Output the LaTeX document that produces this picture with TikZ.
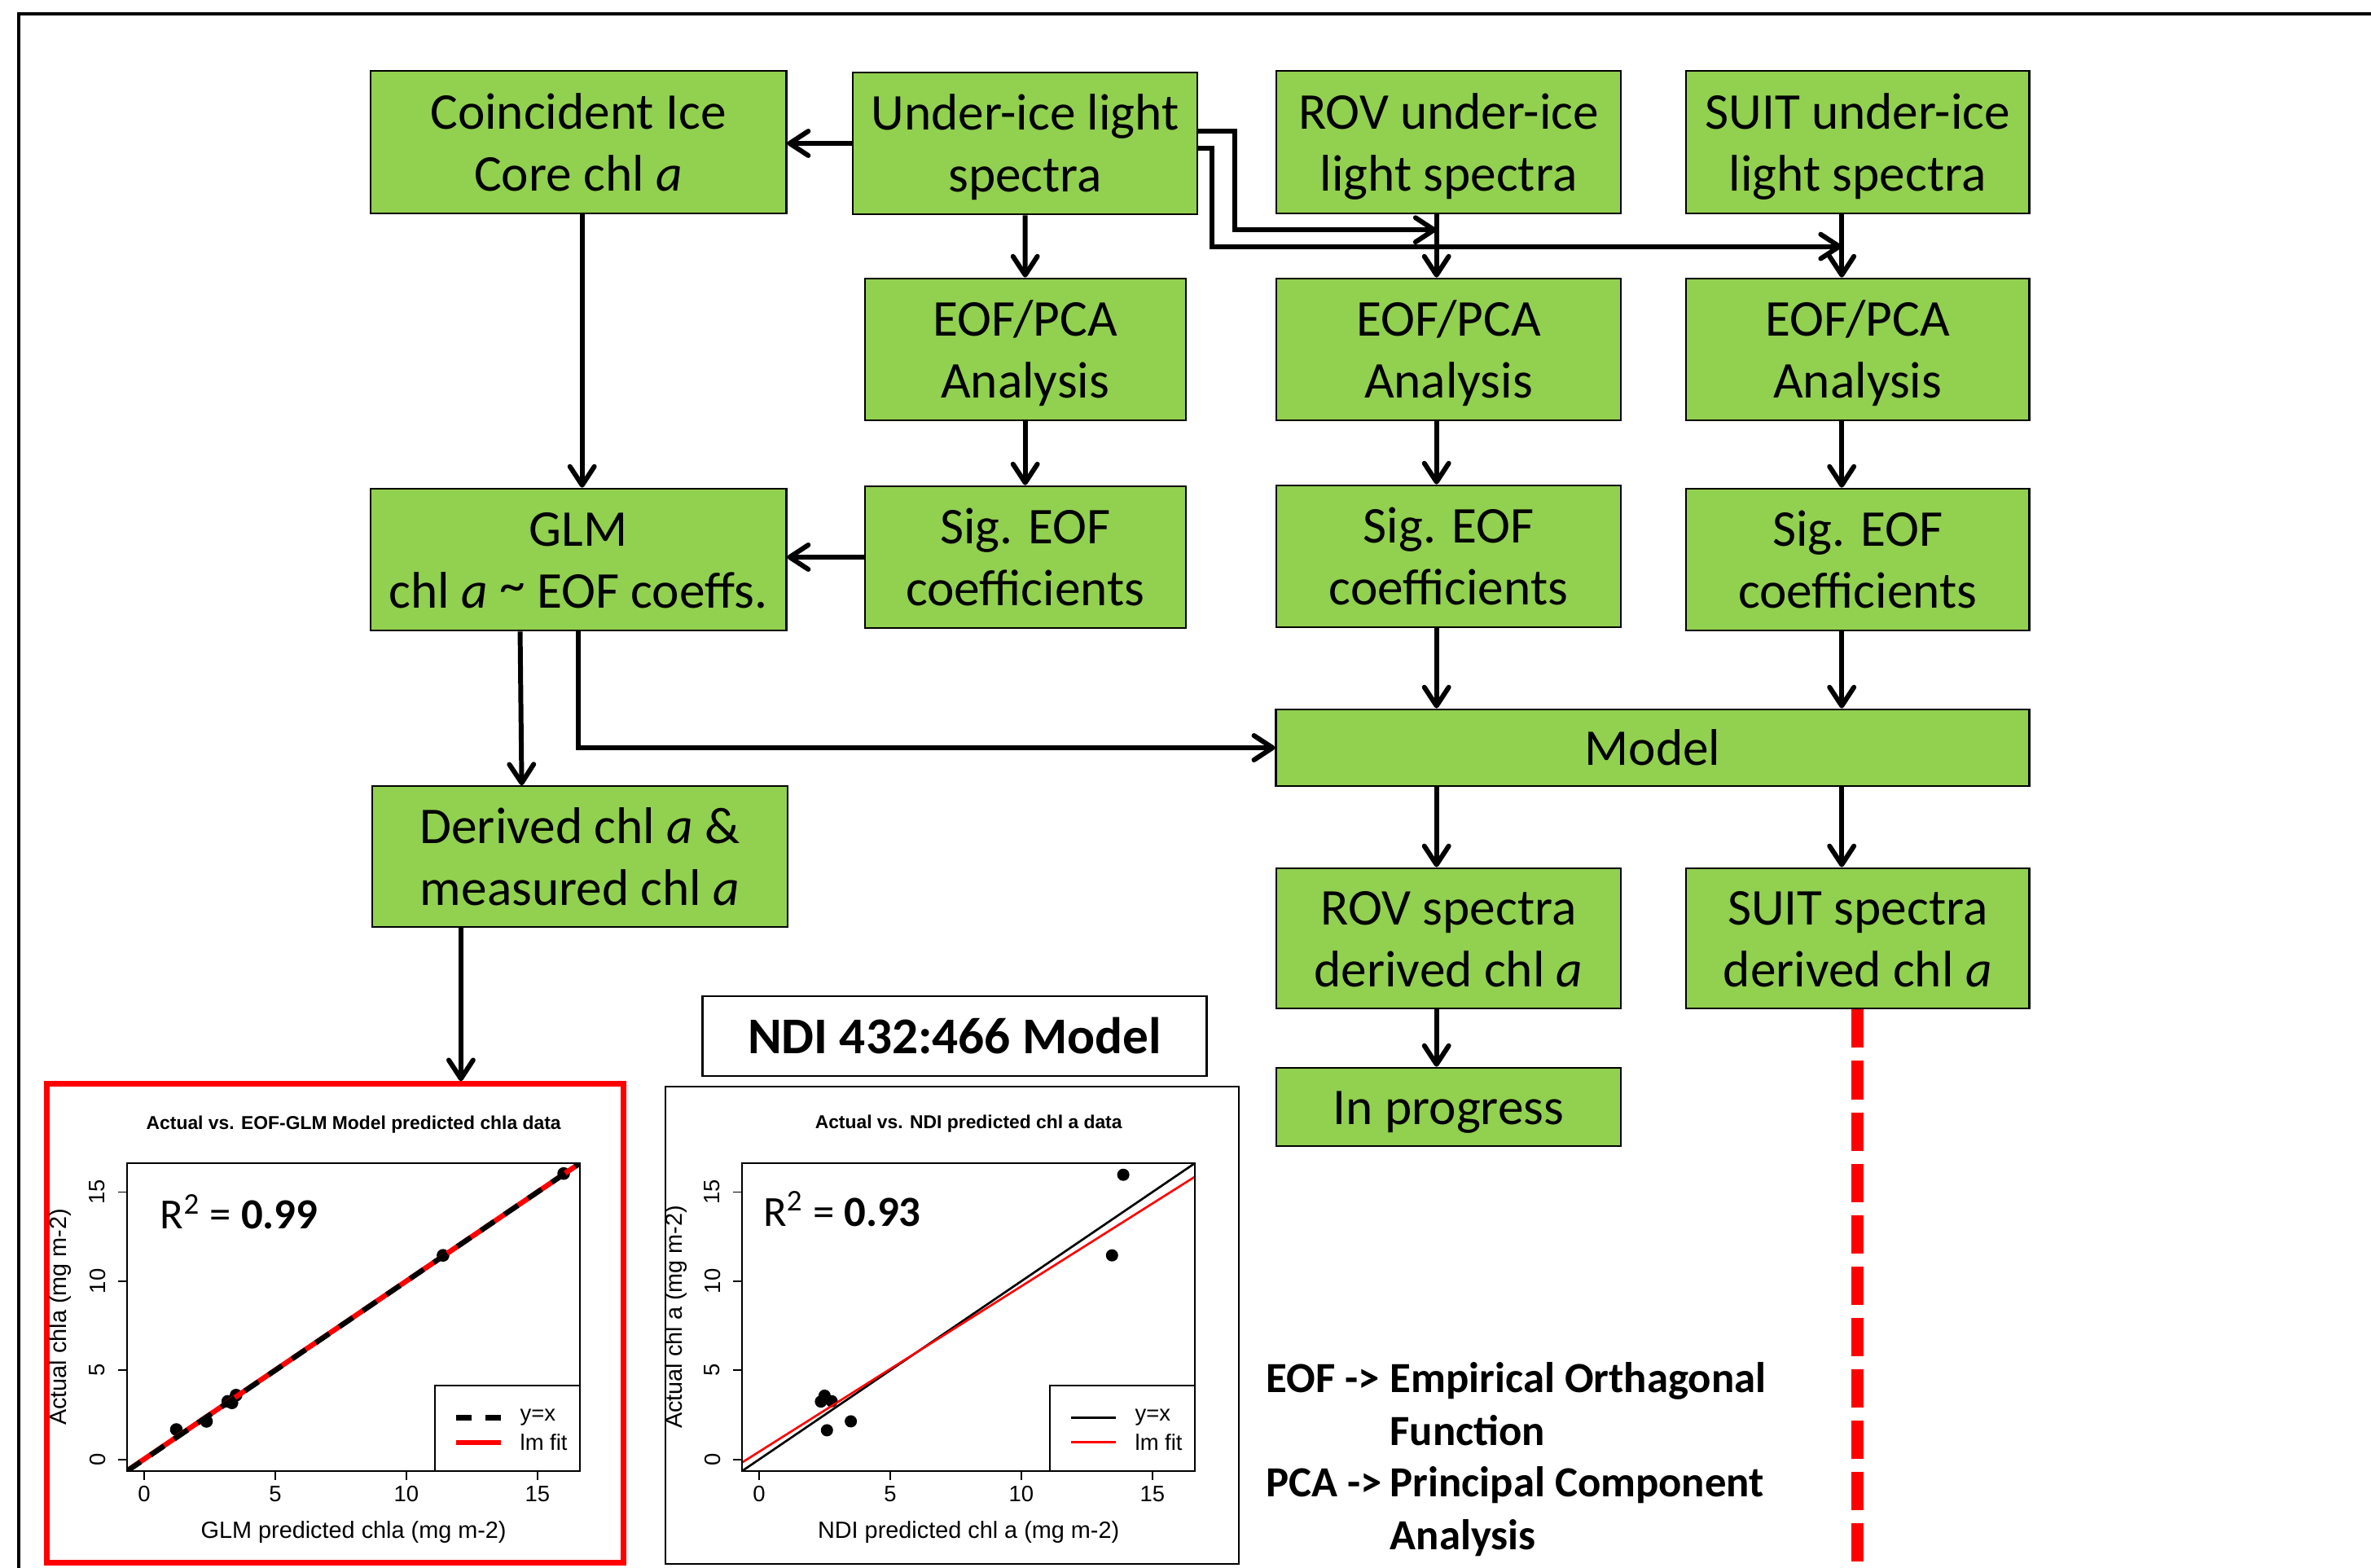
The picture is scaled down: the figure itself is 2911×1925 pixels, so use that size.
\documentclass[tikz,border=0pt]{standalone}
\usepackage{fontspec}
\setmainfont{Carlito}
\newfontfamily\arialf{Liberation Sans}
\usetikzlibrary{arrows.meta,calc}
\definecolor{boxgreen}{RGB}{146,208,80}
\definecolor{rred}{RGB}{255,0,0}
\newcommand{\boxfont}{\fontsize{18}{21.6}\selectfont}
\newcommand{\tickfont}{\arialf\fontsize{7.8}{9}\selectfont}
\newcommand{\axlabfont}{\arialf\fontsize{8.2}{9.5}\selectfont}
\newcommand{\ttlfont}{\arialf\bfseries\fontsize{6.5}{8}\selectfont}
\newcommand{\rsqfont}{\fontsize{15}{18}\selectfont}
\newcommand{\legfont}{\bfseries\fontsize{15}{18}\selectfont}
\newcommand{\bt}[1]{\raisebox{-0.065cm}[\height][\depth]{\begin{tabular}{@{}c@{}}#1\end{tabular}}}
\newcommand{\hitilde}{\raisebox{0.12em}{\textasciitilde}}
\begin{document}
\begin{tikzpicture}[x=0.01cm,y=-0.01cm,
  gbox/.style={draw=black,line width=0.6pt,fill=boxgreen,font=\boxfont,inner sep=0pt,minimum height=1.745cm},
  conn/.style={line width=1.7pt,-{Straight Barb[length=6.5pt,width=8.5pt,round]}},
  axln/.style={line width=0.55pt},
  tkl/.style={font=\tickfont,inner sep=0pt},
  axl/.style={font=\axlabfont,inner sep=0pt},
  legtxt/.style={font=\legfont,anchor=base west,inner sep=0pt}
]
\useasboundingbox (0,0) rectangle (2911,1925);
\fill[white] (0,0) rectangle (2911,1925);
% outer frame
\draw[line width=1.2pt] (2930,17) -- (23,17) -- (23,1945);

% ---------- boxes ----------
\node[gbox,minimum width=5.106cm] (coin) at (710,174.5) {\bt{Coincident Ice\\Core chl \textit{a}}};
\node[gbox,minimum width=4.23cm] (under) at (1258.6,176) {\bt{Under-ice light\\spectra}};
\node[gbox,minimum width=4.233cm] (rov) at (1778.5,174.5) {\bt{ROV under-ice\\light spectra}};
\node[gbox,minimum width=4.214cm] (suit) at (2280.7,174.5) {\bt{SUIT under-ice\\light spectra}};
\node[gbox,minimum width=3.935cm] (eof1) at (1258.7,429) {\bt{EOF/PCA\\Analysis}};
\node[gbox,minimum width=4.233cm] (eof2) at (1778.5,429) {\bt{EOF/PCA\\Analysis}};
\node[gbox,minimum width=4.214cm] (eof3) at (2280.7,429) {\bt{EOF/PCA\\Analysis}};
\node[gbox,minimum width=5.106cm] (glm) at (710,687) {\bt{GLM\\chl \textit{a} \hitilde{} EOF coeffs.}};
\node[gbox,minimum width=3.935cm] (sig1) at (1258.7,684) {\bt{Sig. EOF\\coefficients}};
\node[gbox,minimum width=4.233cm] (sig2) at (1778.5,683) {\bt{Sig. EOF\\coefficients}};
\node[gbox,minimum width=4.214cm] (sig3) at (2280.7,687) {\bt{Sig. EOF\\coefficients}};
\node[gbox,minimum width=9.245cm,minimum height=0.947cm] (model) at (2029,918) {\bt{Model}};
\node[gbox,minimum width=5.105cm,minimum height=1.728cm] (derived) at (712,1051.7) {\bt{Derived chl \textit{a} \&\\measured chl \textit{a}}};
\node[gbox,minimum width=4.233cm,minimum height=1.727cm] (rovd) at (1778.5,1152) {\bt{ROV spectra\\derived chl \textit{a}}};
\node[gbox,minimum width=4.214cm,minimum height=1.727cm] (suitd) at (2280.7,1152) {\bt{SUIT spectra\\derived chl \textit{a}}};
\node[gbox,minimum width=4.233cm,minimum height=0.965cm] (inprog) at (1778.5,1359) {\bt{In progress}};

\node[draw,line width=0.8pt,minimum width=6.18cm,minimum height=0.98cm,inner sep=0pt,font=\bfseries\fontsize{18}{21.6}\selectfont] (ndi) at (1172,1272) {\bt{NDI 432:466 Model}};

\node[draw=rred,line width=2pt,minimum width=7.07cm,minimum height=5.87cm,inner sep=0pt] (frame1) at (411.5,1624.5) {};
\node[draw=black,line width=0.6pt,minimum width=7.04cm,minimum height=5.86cm,inner sep=0pt] (frame2) at (1169,1627) {};

% ---------- connectors ----------
\draw[conn] (under.west) -- (under.west -| coin.east);
\draw[conn] ([xshift=0.047cm]coin.south) -- ([xshift=0.047cm]glm.north);
\draw[conn] (under.south) -- (eof1.north);
\draw[conn] (eof1.south) -- (sig1.north);
\draw[conn] (sig1.west) -- (sig1.west -| glm.east);
\draw[conn] ([xshift=-0.714cm]glm.south) -- ([xshift=-0.714cm]derived.north);
\draw[conn] (glm.south) |- (model.west);
\draw[conn] ([xshift=-1.46cm]derived.south) -- ([xshift=-1.46cm]derived.south |- frame1.north);

\coordinate (tA) at (1763.7,282.2);
\coordinate (tB) at (2261.2,302.6);
\draw[conn] ([yshift=0.145cm]under.east) -- ++(44.8,0) |- (tA);
\draw[conn] ([yshift=-0.06cm]under.east) -- ++(17,0) |- (tB);

\draw[conn] ([xshift=-0.148cm]rov.south) -- ([xshift=-0.148cm]eof2.north);
\draw[conn] ([xshift=-0.195cm]suit.south) -- ([xshift=-0.195cm]eof3.north);
\draw[conn] ([xshift=-0.148cm]eof2.south) -- ([xshift=-0.148cm]sig2.north);
\draw[conn] ([xshift=-0.195cm]eof3.south) -- ([xshift=-0.195cm]sig3.north);
\draw[conn] ([xshift=-0.148cm]sig2.south) -- ([xshift=-0.148cm]sig2.south |- model.north);
\draw[conn] ([xshift=-0.195cm]sig3.south) -- ([xshift=-0.195cm]sig3.south |- model.north);
\draw[conn] ([xshift=-0.148cm]rovd.south |- model.south) -- ([xshift=-0.148cm]rovd.north);
\draw[conn] ([xshift=-0.195cm]suitd.south |- model.south) -- ([xshift=-0.195cm]suitd.north);
\draw[conn] ([xshift=-0.148cm]rovd.south) -- ([xshift=-0.148cm]inprog.north);

\coordinate (redend) at (2280.7,1935);
\draw[rred,line width=0.15cm,dash pattern=on 0.47cm off 0.16cm] (suitd.south) -- (redend);

% ---------- abbreviations ----------
\node[legtxt] (eofA) at (1554,1709) {EOF ->};
\node[legtxt] (eofB) at (1706,1709) {Empirical Orthagonal};
\node[legtxt] (eofC) at (1706,1774) {Function};
\node[legtxt] (pcaA) at (1554,1837) {PCA ->};
\node[legtxt] (pcaB) at (1706,1837) {Principal Component};
\node[legtxt] (pcaC) at (1706,1902) {Analysis};

% ---------- plot 1 ----------
\begin{scope}[shift={(176.9,1791.8)},x=0.3218cm,y=0.21875cm]
  \foreach \px/\py in {1.23/1.68, 2.38/2.14, 3.19/3.26, 3.35/3.18, 3.51/3.61, 11.4/11.45, 16.0/16.04}
    \fill (\px,\py) circle[radius=0.078cm];
  \begin{scope}
    \clip (-0.65,-0.65) rectangle (16.63,16.63);
    \draw[rred,line width=1.8pt] (-0.65,-0.63) -- (16.63,16.63);
    \draw[black,line width=1.8pt,dash pattern=on 0.2cm off 0.15cm] (-0.65,-0.65) -- (16.63,16.63);
  \end{scope}
  \draw[axln] (-0.65,-0.65) rectangle (16.63,16.63);
  \foreach \v in {0,5,10,15} {
    \draw[axln] (\v,-0.65) -- ++(0,-0.5);
    \node[tkl] (p1x\v) at (\v,-1.93) {\v};
    \draw[axln] (-0.65,\v) -- ++(-0.35,0);
    \node[tkl,rotate=90] (p1y\v) at (-1.78,\v) {\v};
  }
  \node[font=\ttlfont,inner sep=0pt] (p1title) at (7.99,18.78) {Actual vs. EOF-GLM Model predicted chla data};
  \node[axl] (p1xl) at (7.99,-4.08) {GLM predicted chla (mg m-2)};
  \node[axl,rotate=90] (p1yl) at (-3.2,7.99) {Actual chla (mg m-2)};
  \node[font=\rsqfont,anchor=west,inner sep=0pt] (p1r) at (0.6,13.9) {R\textsuperscript{2} = \textbf{0.99}};
  \draw[axln] (11.1,-0.65) rectangle (16.63,4.16);
  \draw[line width=1.8pt,dash pattern=on 0.19cm off 0.17cm] (11.9,2.34) -- (13.6,2.34);
  \draw[rred,line width=1.8pt] (11.9,0.96) -- (13.6,0.96);
  \node[tkl,anchor=west] (p1l1) at (14.32,2.34) {y=x};
  \node[tkl,anchor=west] (p1l2) at (14.32,0.96) {lm fit};
\end{scope}

% ---------- plot 2 ----------
\begin{scope}[shift={(931.9,1791.8)},x=0.3218cm,y=0.21875cm]
  \foreach \px/\py in {13.89/15.97, 13.46/11.45, 2.5/3.58, 2.36/3.25, 2.77/3.27, 3.5/2.14, 2.59/1.64}
    \fill (\px,\py) circle[radius=0.075cm];
  \begin{scope}
    \clip (-0.65,-0.65) rectangle (16.63,16.63);
    \draw[black,line width=0.75pt] (-0.65,-0.65) -- (16.63,16.63);
    \draw[rred,line width=0.75pt] (-0.65,-0.17) -- (16.63,15.87);
  \end{scope}
  \draw[axln] (-0.65,-0.65) rectangle (16.63,16.63);
  \foreach \v in {0,5,10,15} {
    \draw[axln] (\v,-0.65) -- ++(0,-0.5);
    \node[tkl] (p2x\v) at (\v,-1.93) {\v};
    \draw[axln] (-0.65,\v) -- ++(-0.35,0);
    \node[tkl,rotate=90] (p2y\v) at (-1.78,\v) {\v};
  }
  \node[font=\ttlfont,inner sep=0pt] (p2title) at (7.99,18.85) {Actual vs. NDI predicted chl a data};
  \node[axl] (p2xl) at (7.99,-4.08) {NDI predicted chl a (mg m-2)};
  \node[axl,rotate=90] (p2yl) at (-3.17,7.99) {Actual chl a (mg m-2)};
  \node[font=\rsqfont,anchor=west,inner sep=0pt] (p2r) at (0.14,14.05) {R\textsuperscript{2} = \textbf{0.93}};
  \draw[axln] (11.1,-0.65) rectangle (16.63,4.16);
  \draw[black,line width=0.75pt] (11.9,2.34) -- (13.6,2.34);
  \draw[rred,line width=0.75pt] (11.9,0.96) -- (13.6,0.96);
  \node[tkl,anchor=west] (p2l1) at (14.32,2.34) {y=x};
  \node[tkl,anchor=west] (p2l2) at (14.32,0.96) {lm fit};
\end{scope}
\end{tikzpicture}
\end{document}
